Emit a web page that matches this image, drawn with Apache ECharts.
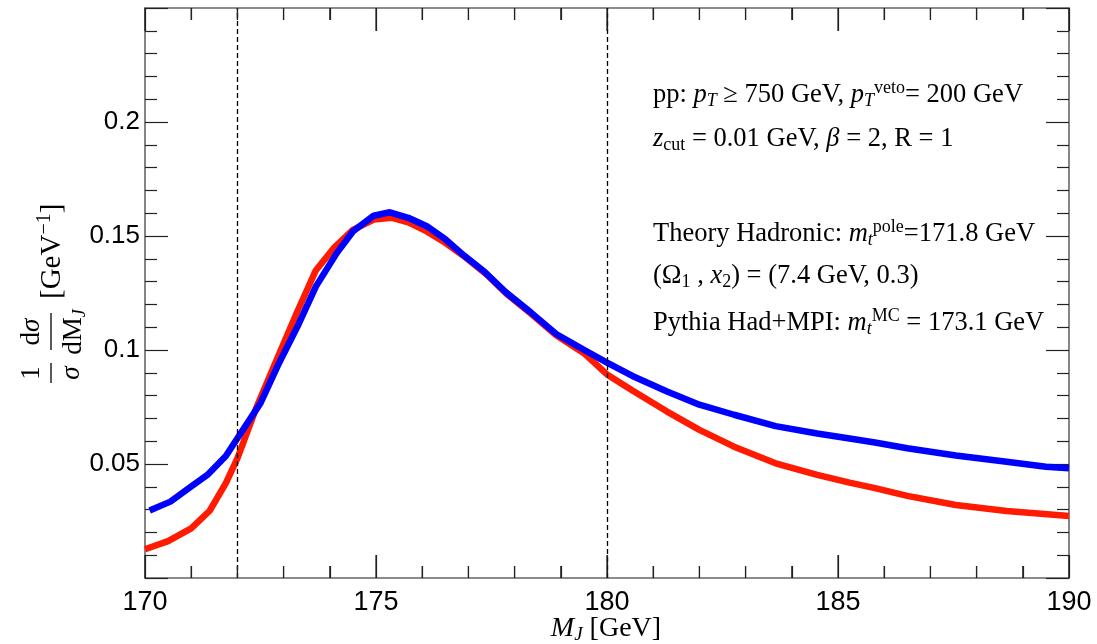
<!DOCTYPE html>
<html>
<head>
<meta charset="utf-8">
<script src="https://cdn.jsdelivr.net/npm/echarts@6/dist/echarts.min.js"></script>
<style>
html,body{margin:0;padding:0;background:#fff;}
#chart{width:1097px;height:644px;}
</style>
</head>
<body>
<div id="chart"></div>
<script>
// ---- data ----
const theoryMass = [170.0,170.5,171.0,171.4,171.75,172.0,172.4,172.85,173.3,173.7,174.1,174.5,174.95,175.35,175.7,176.1,176.5,176.9,177.4,177.85,178.35,178.9,179.5,180.0,180.55,181.3,182.0,182.75,183.65,184.55,185.25,185.8,186.5,187.55,188.65,190.0];
const theoryValues = [0.0126,0.0162,0.0218,0.0295,0.0416,0.0525,0.0742,0.0957,0.1170,0.1350,0.1450,0.1527,0.1572,0.1580,0.1560,0.1520,0.1470,0.1412,0.1330,0.1242,0.1160,0.1065,0.0986,0.0893,0.0822,0.0730,0.0650,0.0576,0.0503,0.0452,0.0418,0.0394,0.0360,0.0320,0.0294,0.0272];
const pythiaMass = [170.1,170.55,170.95,171.35,171.75,172.05,172.5,172.9,173.3,173.7,174.15,174.5,174.95,175.3,175.7,176.1,176.5,176.9,177.35,177.8,178.35,178.9,179.5,180.0,180.55,181.3,182.0,182.75,183.65,184.55,185.25,185.8,186.5,187.55,188.65,189.5,190.0];
const pythiaValues = [0.0296,0.0335,0.0394,0.0452,0.0535,0.0628,0.0767,0.0942,0.1103,0.1279,0.1425,0.1520,0.1589,0.1604,0.1580,0.1543,0.1486,0.1415,0.1343,0.1255,0.1165,0.1070,0.1001,0.0945,0.0886,0.0818,0.0760,0.0716,0.0666,0.0634,0.0612,0.0594,0.0569,0.0537,0.0510,0.0488,0.0481];
const cutLines = [172, 180];
const yTickLabels = ['0.05','0.1','0.15','0.2'];
const xTickLabels = ['170','175','180','185','190'];
const xMajorTicks = [170,175,180,185,190];
const xMinorTicks = [171,172,173,174,176,177,178,179,181,182,183,184,186,187,188,189];

const SERIF = 'Liberation Serif';
const SANS = 'Liberation Sans';
const RED = '#ff1a00';
const BLUE = '#0000ff';
const Y_MIN = 0, Y_MAX = 0.25;

const chart = echarts.init(document.getElementById('chart'), null, {renderer:'canvas'});

function zip(xs, ys){ return xs.map((x,i)=>[x, ys[i]]); }

function tickParts(){
  return {
    axisLine:{show:true, lineStyle:{color:'#666', width:1.6}},
    axisTick:{show:true, inside:true, length:23, lineStyle:{color:'#222', width:1.2}},
    minorTick:{show:true, splitNumber:5, length:12, lineStyle:{color:'#222', width:1.2}},
    splitLine:{show:false}, minorSplitLine:{show:false}
  };
}

function richStyles(color, size){
  const sub = Math.round(size*0.68);
  return {
    n:{fontFamily:SERIF, fontSize:size, color:color},
    i:{fontFamily:SERIF, fontSize:size, fontStyle:'italic', color:color},
    sb:{fontFamily:SERIF, fontSize:sub, color:color, padding:[12,0,0,0]},
    sbi:{fontFamily:SERIF, fontSize:sub, fontStyle:'italic', color:color, padding:[12,0,0,0]},
    sp:{fontFamily:SERIF, fontSize:sub, color:color, padding:[0,0,14,0]}
  };
}

// x frame ticks (bottom and top edges), positioned through the x scale
const xTickData = xMajorTicks.map(v=>[v, 1]).concat(xMinorTicks.map(v=>[v, 0]));
function renderXTick(params, api){
  const v = api.value(0);
  const len = api.value(1) === 1 ? 23 : 12;
  const b = api.coord([v, Y_MIN]);
  const t = api.coord([v, Y_MAX]);
  const st = {stroke:'#222', lineWidth:1.2, fill:null};
  return {type:'group', children:[
    {type:'line', shape:{x1:b[0], y1:b[1], x2:b[0], y2:b[1]-len}, style:st},
    {type:'line', shape:{x1:t[0], y1:t[1], x2:t[0], y2:t[1]+len}, style:st}
  ]};
}

const gridBox = {left:145, right:28, top:8, bottom:66};

const option = {
  animation:false,
  backgroundColor:'#ffffff',
  grid:[Object.assign({}, gridBox), Object.assign({}, gridBox)],
  xAxis:[
    Object.assign({type:'value', gridIndex:0, min:170, max:190, interval:5, position:'bottom',
      axisLabel:{show:true, margin:11, color:'#000', fontFamily:SANS, fontSize:27,
        formatter:(v)=> xTickLabels.indexOf(String(v))>=0 ? String(v) : ''}}, tickParts()),
    Object.assign({type:'value', gridIndex:1, min:170, max:190, interval:5, position:'top',
      axisLabel:{show:false}}, tickParts())
  ],
  yAxis:[
    Object.assign({type:'value', gridIndex:0, min:Y_MIN, max:Y_MAX, interval:0.05, position:'left',
      axisLabel:{show:true, margin:5, color:'#000', fontFamily:SANS, fontSize:26,
        formatter:(v)=>{ const s = String(+v.toFixed(2)); return yTickLabels.indexOf(s)>=0 ? s : ''; }}}, tickParts()),
    Object.assign({type:'value', gridIndex:0, min:Y_MIN, max:Y_MAX, interval:0.05, position:'right',
      axisLabel:{show:false}}, tickParts()),
    {type:'value', gridIndex:1, min:1, max:2, show:false}
  ],
  series:[
    {type:'custom', name:'xticks', xAxisIndex:0, yAxisIndex:0, clip:false, silent:true,
     data:xTickData, encode:{x:0}, renderItem:renderXTick, z:5},
    {type:'line', name:'Theory', xAxisIndex:0, yAxisIndex:0, data:zip(theoryMass, theoryValues), showSymbol:false, symbol:'none',
     lineStyle:{color:RED, width:6.5}, z:3,
     markLine:{silent:true, symbol:'none', label:{show:false}, animation:false,
       lineStyle:{color:'#000', type:[5,3], width:1.3},
       data: cutLines.map(v=>({xAxis:v}))}},
    {type:'line', name:'Pythia', xAxisIndex:0, yAxisIndex:0, data:zip(pythiaMass, pythiaValues), showSymbol:false, symbol:'none',
     lineStyle:{color:BLUE, width:6.5}, z:4}
  ],
  graphic:[
    {type:'text', x:606, y:629, style:{
      text:'{i|M}{sbi|J}{n| [GeV]}', align:'center', verticalAlign:'middle',
      rich:richStyles('#000', 28)}},
    {type:'text', x:653, y:95, style:{text:'{n|pp: }{i|p}{sbi|T}{n| ≥ 750 GeV, }{i|p}{sbi|T}{sp|veto}{n|= 200 GeV}',
      verticalAlign:'middle', rich:richStyles('#000', 26.5)}},
    {type:'text', x:653, y:139, style:{text:'{i|z}{sb|cut}{n| = 0.01 GeV, }{i|β}{n| = 2, R = 1}',
      verticalAlign:'middle', rich:richStyles('#000', 26.5)}},
    {type:'text', x:653, y:234, style:{text:'{n|Theory Hadronic: }{i|m}{sbi|t}{sp|pole}{n|=171.8 GeV}',
      verticalAlign:'middle', rich:richStyles(RED, 26.5)}},
    {type:'text', x:653, y:276, style:{text:'{n|(Ω}{sb|1}{n| , }{i|x}{sb|2}{n|) = (7.4 GeV, 0.3)}',
      verticalAlign:'middle', rich:richStyles(RED, 26.5)}},
    {type:'text', x:653, y:323, style:{text:'{n|Pythia Had+MPI: }{i|m}{sbi|t}{sp|MC}{n| = 173.1 GeV}',
      verticalAlign:'middle', rich:richStyles(BLUE, 26.5)}},
    {type:'group', x:51, y:384, rotation:Math.PI/2, children:[
      {type:'text', x:11, y:-19, style:{text:'1', fontFamily:SERIF, fontSize:27, align:'center', verticalAlign:'middle', fill:'#000'}},
      {type:'line', shape:{x1:1, y1:0, x2:21, y2:0}, style:{stroke:'#000', lineWidth:1.3}},
      {type:'text', x:11, y:21, style:{text:'σ', fontFamily:SERIF, fontSize:27, fontStyle:'italic', align:'center', verticalAlign:'middle', fill:'#000'}},
      {type:'text', x:52, y:-19, style:{text:'{n|d}{i|σ}', align:'center', verticalAlign:'middle', rich:richStyles('#000',27)}},
      {type:'line', shape:{x1:34, y1:0, x2:71, y2:0}, style:{stroke:'#000', lineWidth:1.3}},
      {type:'text', x:52, y:23, style:{text:'{n|dM}{sbi|J}', align:'center', verticalAlign:'middle', rich:richStyles('#000',27)}},
      {type:'text', x:85, y:1, style:{text:'{n|[GeV}{sp|−1}{n|]}', align:'left', verticalAlign:'middle', rich:richStyles('#000',29)}}
    ]}
  ]
};
chart.setOption(option);
</script>
</body>
</html>
